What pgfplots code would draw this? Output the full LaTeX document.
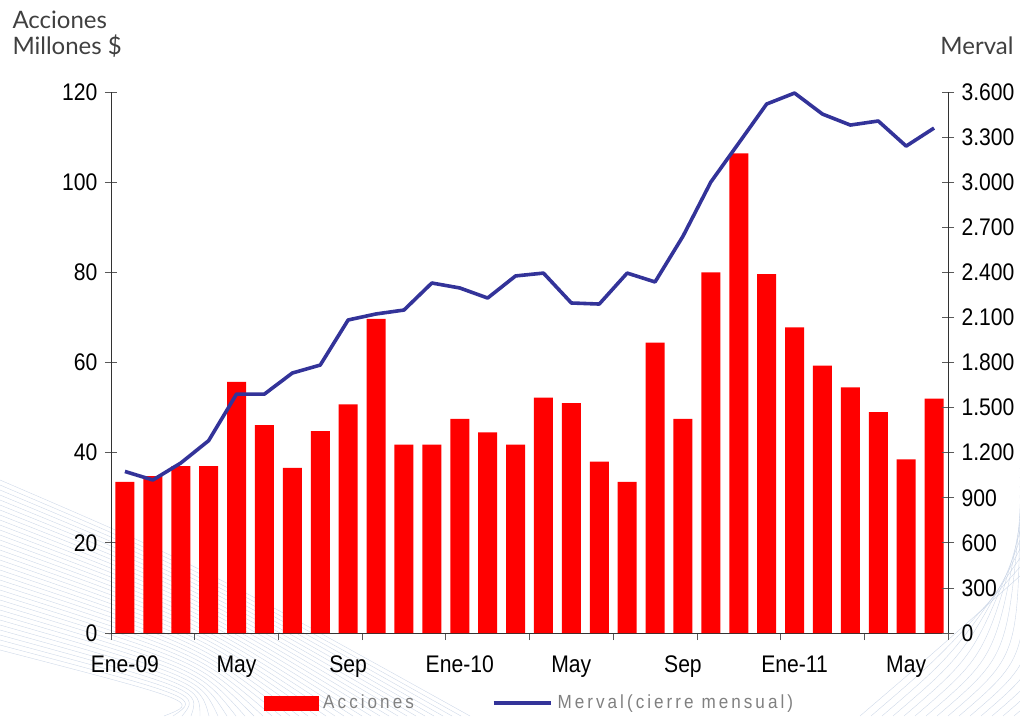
\documentclass[border=0pt]{standalone}
\usepackage{fontspec}
\setmainfont[FakeStretch=0.88]{Liberation Sans}
\newfontfamily\titlefont{Lato}
\newfontfamily\legfont[LetterSpace=16,FakeStretch=0.9]{Liberation Sans}
\usepackage{pgfplots}
\pgfplotsset{compat=1.18}
\definecolor{merval}{RGB}{51,51,153}
\definecolor{deco}{RGB}{185,200,222}
\begin{document}
\begin{tikzpicture}[x=1pt,y=1pt]
\useasboundingbox (0,0) rectangle (1020,716);
% background decoration
\foreach \i in {0,...,34}{
  \draw[deco, line width=0.4pt, opacity=0.7] (0,{236-5*\i}) .. controls (200,{150-4*\i}) .. ({470-9*\i},0);
}
\foreach \i in {0,...,14}{
  \draw[deco, line width=0.4pt, opacity=0.7] ({860+11*\i},0) .. controls ({930+11*\i},60) .. (1020,{140+9*\i});
}
\pgfplotsset{
  every axis/.append style={
    scale only axis, width=837pt, height=541pt,
    at={(111pt,83pt)}, anchor=south west,
    xmin=-0.5, xmax=29.5,
    tick align=center,
    major tick length=12pt,
    minor tick length=7pt,
    every tick/.style={black!65, line width=0.8pt},
    axis line style={-, black!80, line width=0.9pt},
    tick label style={font=\fontsize{24}{28}\selectfont},
    /pgf/number format/assume math mode=true,
  }
}
\begin{axis}[
  ymin=0, ymax=120,
  axis x line*=bottom, axis y line*=left,
  ytick={0,20,...,120},
  xtick={0,4,...,28},
  xticklabels={Ene-09,May,Sep,Ene-10,May,Sep,Ene-11,May},
  major x tick style={draw=none},
  minor xtick={-0.5,2.5,...,29.5},
  minor x tick style={yshift=-3.5pt},
  xticklabel style={yshift=-13pt},
  yticklabel style={xshift=-4pt},
]
\addplot[ybar, bar width=19pt, fill=red, draw=none] coordinates {
(0,33.5) (1,34.8) (2,37.0) (3,37.0) (4,55.7) (5,46.1) (6,36.6) (7,44.8)
(8,50.7) (9,69.7) (10,41.8) (11,41.8) (12,47.5) (13,44.5) (14,41.8) (15,52.2)
(16,51.0) (17,38.0) (18,33.5) (19,64.4) (20,47.5) (21,80.0) (22,106.4) (23,79.6)
(24,67.8) (25,59.3) (26,54.5) (27,49.0) (28,38.5) (29,52.0)
};
\end{axis}
\begin{axis}[
  ymin=0, ymax=3600,
  axis y line*=right, axis x line=none,
  ytick={0,300,...,3600},
  scaled y ticks=false,
  yticklabel style={xshift=4pt, /pgf/number format/.cd, 1000 sep={.}},
  legend columns=2,
  legend style={at={(0.5,-0.129)}, anchor=center, draw=none, fill=none,
    font=\legfont\fontsize{19}{22}\selectfont, text=black!50,
    /tikz/every even column/.append style={column sep=76pt},
    /tikz/every odd column/.append style={column sep=3pt}},
  legend cell align=left,
]
\addlegendimage{legend image code/.code={\fill[red] (0pt,-7pt) rectangle (54pt,7pt);}}
\addlegendentry{Acciones}
\addplot[color=merval, line width=3.6pt, mark=none, line join=round,
  legend image code/.code={\draw[merval, line width=3.6pt] (0pt,0pt) -- (57pt,0pt);}] coordinates {
(0,1075) (1,1018) (2,1131) (3,1280) (4,1590) (5,1590) (6,1730) (7,1783)
(8,2083) (9,2123) (10,2149) (11,2329) (12,2296) (13,2229) (14,2376) (15,2395)
(16,2196) (17,2189) (18,2395) (19,2336) (20,2640) (21,3001) (22,3260) (23,3520)
(24,3593) (25,3453) (26,3380) (27,3407) (28,3240) (29,3360)
};
\addlegendentry{Merval(cierre mensual)}
\end{axis}
\node[anchor=base west, text=black!75, font=\titlefont\fontsize{24}{27}\selectfont] at (9,687) {Acciones};
\node[anchor=base west, text=black!75, font=\titlefont\fontsize{24}{27}\selectfont] at (9,661) {Millones \$};
\node[anchor=base east, text=black!75, font=\titlefont\fontsize{24}{27}\selectfont] at (1017,661) {Merval};
\end{tikzpicture}
\end{document}
